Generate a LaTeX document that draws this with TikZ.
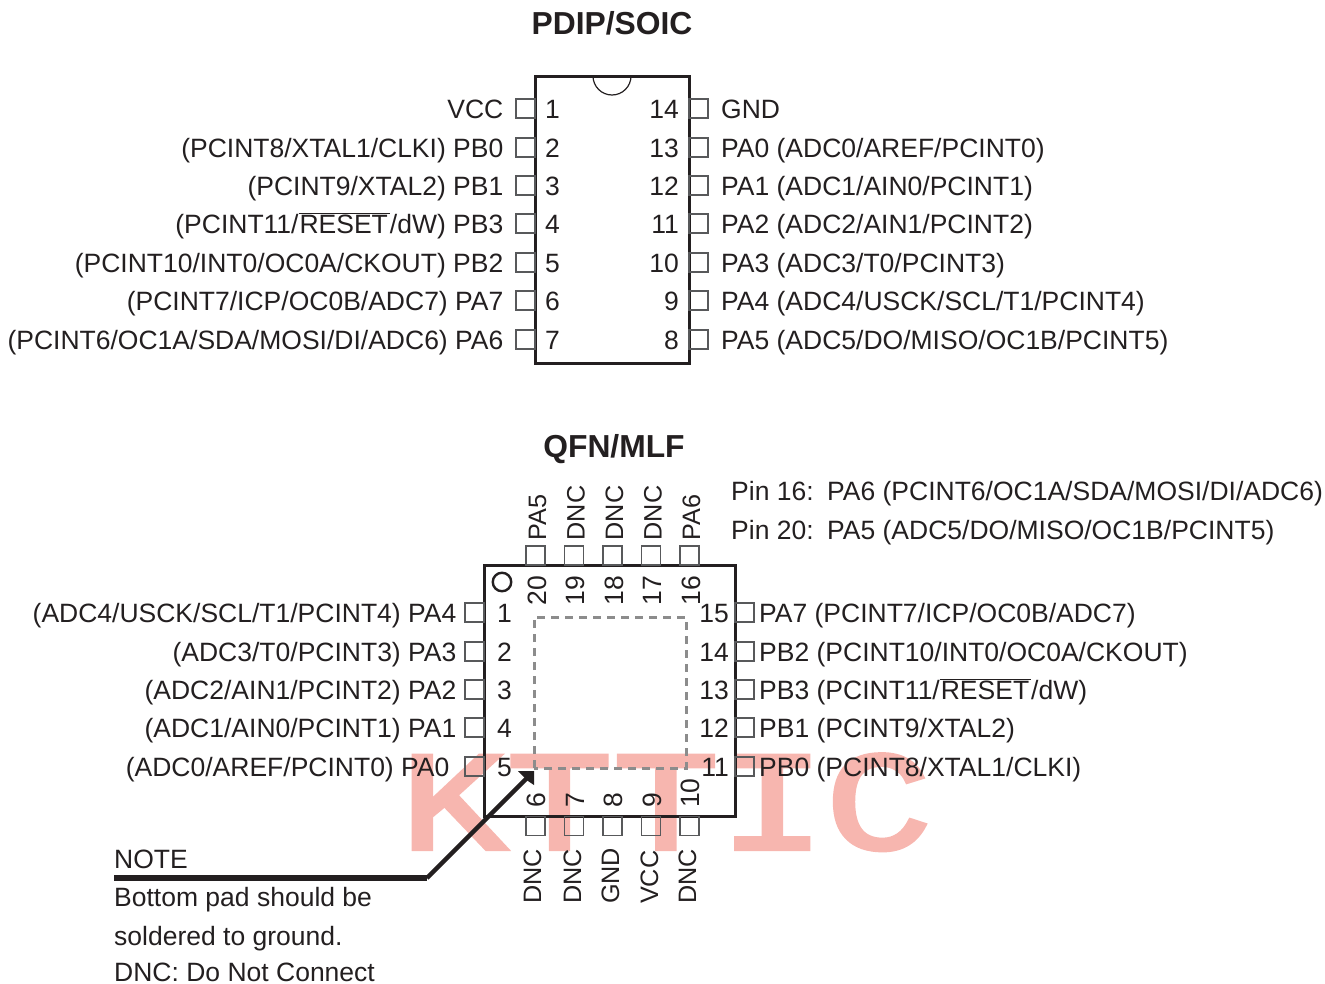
\documentclass[tikz,border=0pt]{standalone}
\usepackage{fontspec}
\setmainfont{Liberation Sans}
\newfontfamily\wmfont[FakeBold=2.8]{Liberation Mono}
\usetikzlibrary{arrows.meta}
\definecolor{ink}{HTML}{231F20}
\definecolor{pinc}{HTML}{58595B}
\definecolor{wmc}{HTML}{F7B6AF}
\tikzset{
  lab/.style={inner sep=0pt,text=ink,font=\fontsize{26.5}{30}\selectfont},
  le/.style={lab,anchor=base east},
  lw/.style={lab,anchor=base west},
  vt/.style={lab,anchor=base west,rotate=90},
  vl/.style={vt,font=\fontsize{25.2}{30}\selectfont},
  ttl/.style={inner sep=0pt,text=ink,anchor=base,font=\fontsize{31.8}{34}\selectfont\bfseries},
  pin/.style={draw=pinc,line width=1.3pt,minimum size=19pt,inner sep=0pt,fill=none},
  chip/.style={draw=ink,line width=3pt},
}
\newcommand{\rst}{$\overline{\hbox{\kern1pt RESET\kern2pt}}$}
\begin{document}
\begin{tikzpicture}[x=1pt,y=-1pt]
\useasboundingbox (0,0) rectangle (1325,983);
% watermark
\node[inner sep=0pt,anchor=base,text=wmc,transform shape,xscale=1.025,yscale=.82,font=\fontsize{173}{175}\selectfont\wmfont] (wm) at (666,849) {KTTIC};
\node[ttl] (t1) at (612,34) {PDIP/SOIC};
\node[ttl] (t2) at (614,457) {QFN/MLF};
% PDIP
\draw[chip] (535,76) rectangle (689,363);
\draw[draw=ink,line width=1.2pt] (593,76) arc[start angle=180,end angle=360,x radius=19pt,y radius=19pt];
\foreach \i/\y in {1/118,2/157,3/195,4/233,5/272,6/310,7/349}{
  \node[pin] (pl\i) at (525.5,\y-9.5) {};
  \node[lw] (nl\i) at (545,\y) {\i};
}
\foreach \i/\y in {14/118,13/157,12/195,11/233,10/272,9/310,8/349}{
  \node[pin] (pr\i) at (698.5,\y-9.5) {};
  \node[le] (nr\i) at (679,\y) {\i};
}
\node[le] (a1) at (503.5,118) {VCC};
\node[le] (a2) at (503.5,157) {(PCINT8/XTAL1/CLKI) PB0};
\node[le] (a3) at (503.5,195) {(PCINT9/XTAL2) PB1};
\node[le] (a4) at (503.5,233) {(PCINT11/\rst/dW) PB3};
\node[le] (a5) at (503.5,272) {(PCINT10/INT0/OC0A/CKOUT) PB2};
\node[le] (a6) at (503.5,310) {(PCINT7/ICP/OC0B/ADC7) PA7};
\node[le] (a7) at (503.5,349) {(PCINT6/OC1A/SDA/MOSI/DI/ADC6) PA6};
\node[lw] (b1) at (721,118) {GND};
\node[lw] (b2) at (721,157) {PA0 (ADC0/AREF/PCINT0)};
\node[lw] (b3) at (721,195) {PA1 (ADC1/AIN0/PCINT1)};
\node[lw] (b4) at (721,233) {PA2 (ADC2/AIN1/PCINT2)};
\node[lw] (b5) at (721,272) {PA3 (ADC3/T0/PCINT3)};
\node[lw] (b6) at (721,310) {PA4 (ADC4/USCK/SCL/T1/PCINT4)};
\node[lw] (b7) at (721,349) {PA5 (ADC5/DO/MISO/OC1B/PCINT5)};
% QFN
\draw[chip] (484,565) rectangle (735,816);
\draw[draw=black!45,line width=3pt,dash pattern=on 8pt off 6pt] (534,768) -- (534,617) -- (686,617) -- (686,768) -- cycle;
\node[draw=ink,line width=2.4pt,circle,minimum size=18.5pt,inner sep=0pt] (dot) at (502,582) {};
\foreach \i/\x/\n in {20/535.5/PA5,19/574/DNC,18/612.5/DNC,17/651/DNC,16/689.5/PA6}{
  \node[pin] (pt\i) at (\x,555.5) {};
  \node[vt] (nt\i) at (\x+10.5,605.5) {\i};
  \node[vl] (lt\i) at (\x+10.5,540.5) {\n};
}
\foreach \i/\x in {6/535.5,7/574,8/612.5,9/651,10/689.5}{
  \node[pin] (pb\i) at (\x,826) {};
  \node[vt] (nb\i) at (\x+10,808) {\i};
}
\node[vl] (lb6) at (541,904) {DNC};
\node[vl] (lb7) at (581,904) {DNC};
\node[vl] (lb8) at (619,904) {GND};
\node[vl] (lb9) at (658,904) {VCC};
\node[vl] (lb10) at (696,904) {DNC};
\foreach \i/\y in {1/622,2/661,3/699,4/737,5/776}{
  \node[pin] (ql\i) at (474.5,\y-9.5) {};
  \node[lw] (qn\i) at (497,\y) {\i};
}
\foreach \i/\y in {15/622,14/661,13/699,12/737,11/776}{
  \node[pin] (qr\i) at (744.5,\y-9.5) {};
  \node[le] (qm\i) at (729,\y) {\i};
}
\node[le] (c1) at (456.5,622) {(ADC4/USCK/SCL/T1/PCINT4) PA4};
\node[le] (c2) at (456.5,661) {(ADC3/T0/PCINT3) PA3};
\node[le] (c3) at (456.5,699) {(ADC2/AIN1/PCINT2) PA2};
\node[le] (c4) at (456.5,737) {(ADC1/AIN0/PCINT1) PA1};
\node[le] (c5) at (449.5,776) {(ADC0/AREF/PCINT0) PA0};
\node[lw] (d1) at (759,622) {PA7 (PCINT7/ICP/OC0B/ADC7)};
\node[lw] (d2) at (759,661) {PB2 (PCINT10/INT0/OC0A/CKOUT)};
\node[lw] (d3) at (759,699) {PB3 (PCINT11/\rst/dW)};
\node[lw] (d4) at (759,737) {PB1 (PCINT9/XTAL2)};
\node[lw] (d5) at (759,776) {PB0 (PCINT8/XTAL1/CLKI)};
\node[lw] (e1) at (731,500) {Pin 16:\hspace{13.5pt}PA6 (PCINT6/OC1A/SDA/MOSI/DI/ADC6)};
\node[lw] (e2) at (731,539) {Pin 20:\hspace{13.5pt}PA5 (ADC5/DO/MISO/OC1B/PCINT5)};
\node[lw] (n1) at (114,868) {NOTE};
\node[lw] (n2) at (114,906) {Bottom pad should be};
\node[lw] (n3) at (114,945) {soldered to ground.};
\node[lw] (n4) at (114,981.5) {DNC: Do Not Connect};
% note leader
\coordinate (ls) at (114,878);
\coordinate (lk) at (427,878);
\coordinate (lt) at (528,777);
\draw[ink,line width=5.5pt] (ls) -- (lk);
\draw[ink,line width=4.5pt] (lk) -- (lt);
\fill[ink] (534,771) -- (518,771) -- (524,777) -- (528,781) -- (534,785) -- cycle;
\end{tikzpicture}
\end{document}
